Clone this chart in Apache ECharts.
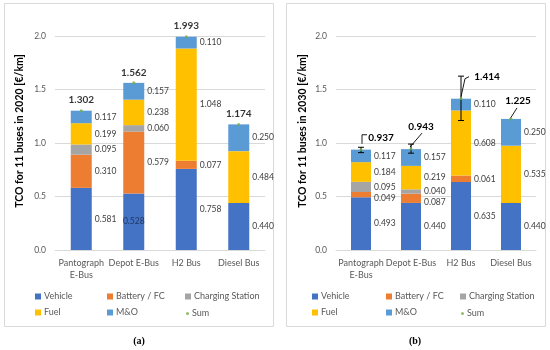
<!DOCTYPE html>
<html>
<head>
<meta charset="utf-8">
<script src="https://cdn.jsdelivr.net/npm/echarts@6/dist/echarts.min.js"></script>
<style>html,body{margin:0;padding:0;background:#fff}#c{width:550px;height:350px}</style>
</head>
<body>
<div id="c"></div>
<script>
const categories = ['Pantograph\nE-Bus', 'Depot E-Bus', 'H2 Bus', 'Diesel Bus'];
const yTicks = [0, 0.5, 1.0, 1.5, 2.0];

const vehicle2020  = [0.581, 0.528, 0.758, 0.440];
const battery2020  = [0.310, 0.579, 0.077, null];
const charging2020 = [0.095, 0.060, null, null];
const fuel2020     = [0.199, 0.238, 1.048, 0.484];
const mo2020       = [0.117, 0.157, 0.110, 0.250];
const sum2020      = [1.302, 1.562, 1.993, 1.174];

const vehicle2030  = [0.493, 0.440, 0.635, 0.440];
const battery2030  = [0.049, 0.087, 0.061, null];
const charging2030 = [0.095, 0.040, null, null];
const fuel2030     = [0.184, 0.219, 0.608, 0.535];
const mo2030       = [0.117, 0.157, 0.110, 0.250];
const sum2030      = [0.937, 0.943, 1.414, 1.225];
const errLow2030   = [0.91, 0.905, 1.21, null];
const errHigh2030  = [0.96, 0.99, 1.625, null];

const FONT = 'Lato';
const colors = {
  'Vehicle': '#4472C4', 'Battery / FC': '#ED7D31', 'Charging Station': '#A5A5A5',
  'Fuel': '#FFC000', 'M&O': '#5B9BD5', 'Sum': '#70AD47'
};

// label placement (pixel offsets from the data point) for the 2030 sum labels
const sumLabelStyle2030 = [
  {label: [20, -12], line: [[6, -15], [1, -15], [1, -6]]},
  {label: [10, -22], line: [[-1, -2], [11, -16]]},
  {label: [26, -22], line: [[0, -2], [4, -20], [8, -22]]},
  {label: [7, -18], line: [[-1, 0], [6, -11]]}
];

const chart = echarts.init(document.getElementById('c'), null, {renderer: 'canvas'});

function labelFmt(p) { return p.value == null ? '' : Number(p.value).toFixed(3); }

function barSeries(name, arr, idx, stack, bw, overrides) {
  return {
    name: name, type: 'bar', stack: stack, xAxisIndex: idx, yAxisIndex: idx,
    barWidth: bw,
    itemStyle: {color: colors[name]},
    label: {show: true, position: 'right', distance: 3, fontFamily: FONT, fontSize: 8.5, color: '#404040', formatter: labelFmt},
    emphasis: {disabled: true},
    data: arr.map((v, i) => (overrides && overrides[i]) ? Object.assign({value: v}, overrides[i]) : v)
  };
}

const series = [
  barSeries('Vehicle', vehicle2020, 0, 'a', 21, {1: {label: {position: 'inside', color: '#1F3864'}}}),
  barSeries('Battery / FC', battery2020, 0, 'a', 21),
  barSeries('Charging Station', charging2020, 0, 'a', 21),
  barSeries('Fuel', fuel2020, 0, 'a', 21),
  barSeries('M&O', mo2020, 0, 'a', 21),
  {
    name: 'Sum', type: 'scatter', xAxisIndex: 0, yAxisIndex: 0, symbol: 'circle', symbolSize: 3,
    itemStyle: {color: colors['Sum']}, z: 5,
    label: {show: true, position: 'top', distance: 4, fontFamily: FONT, fontWeight: 'bold', fontSize: 10, color: '#000', formatter: labelFmt},
    data: sum2020
  },
  barSeries('Vehicle', vehicle2030, 1, 'b', 20),
  barSeries('Battery / FC', battery2030, 1, 'b', 20, {0: {label: {offset: [0, 4]}}, 1: {label: {offset: [0, 4]}}}),
  barSeries('Charging Station', charging2030, 1, 'b', 20),
  barSeries('Fuel', fuel2030, 1, 'b', 20),
  barSeries('M&O', mo2030, 1, 'b', 20),
  {
    name: 'errbar', type: 'custom', xAxisIndex: 1, yAxisIndex: 1, z: 4,
    renderItem: function (params, api) {
      if (isNaN(api.value(1))) return;
      const p1 = api.coord([api.value(0), api.value(1)]);
      const p2 = api.coord([api.value(0), api.value(2)]);
      const w = 3, st = {stroke: '#000', lineWidth: 1};
      return {type: 'group', children: [
        {type: 'line', shape: {x1: p1[0], y1: p1[1], x2: p2[0], y2: p2[1]}, style: st},
        {type: 'line', shape: {x1: p1[0] - w, y1: p1[1], x2: p1[0] + w, y2: p1[1]}, style: st},
        {type: 'line', shape: {x1: p2[0] - w, y1: p2[1], x2: p2[0] + w, y2: p2[1]}, style: st}
      ]};
    },
    encode: {x: 0, y: [1, 2]},
    data: categories.map((c, i) => [i, errLow2030[i] == null ? NaN : errLow2030[i], errHigh2030[i] == null ? NaN : errHigh2030[i]])
  },
  {
    name: 'Sum', type: 'scatter', xAxisIndex: 1, yAxisIndex: 1, symbol: 'circle', symbolSize: 3,
    itemStyle: {color: colors['Sum']}, z: 6,
    data: sum2030
  },
  {
    name: 'sumLabels2030', type: 'custom', xAxisIndex: 1, yAxisIndex: 1, z: 5,
    renderItem: function (params, api) {
      const i = params.dataIndex;
      const v = api.value(1);
      const p = api.coord([api.value(0), v]);
      const s = sumLabelStyle2030[i];
      return {type: 'group', children: [
        {type: 'polyline', shape: {points: s.line.map(d => [p[0] + d[0], p[1] + d[1]])}, style: {stroke: '#000', lineWidth: 0.9, fill: 'none'}},
        {type: 'text', x: p[0] + s.label[0], y: p[1] + s.label[1],
          style: {text: v.toFixed(3), font: 'bold 10px Lato', fill: '#000', textAlign: 'center', textVerticalAlign: 'middle'}}
      ]};
    },
    encode: {x: 0, y: 1},
    data: categories.map((c, i) => [i, sum2030[i]])
  }
];

function xAx(idx) {
  return {
    type: 'category', gridIndex: idx, data: categories,
    axisLine: {lineStyle: {color: '#D9D9D9'}}, axisTick: {show: false},
    axisLabel: {fontFamily: FONT, fontSize: 9, color: '#595959', margin: 7, lineHeight: 12, interval: 0}
  };
}
function yAx(idx) {
  return {
    type: 'value', gridIndex: idx, min: yTicks[0], max: yTicks[yTicks.length - 1], interval: 0.5,
    axisLine: {show: false}, axisTick: {show: false},
    splitLine: {lineStyle: {color: '#D9D9D9', width: 1}},
    axisLabel: {fontFamily: FONT, fontSize: 8.5, color: '#595959', margin: 9, formatter: v => v.toFixed(1)}
  };
}

function legends(lefts) {
  const base = {orient: 'vertical', top: 287, itemWidth: 6, itemHeight: 6, itemGap: 7,
    textStyle: {fontFamily: FONT, fontSize: 9, color: '#595959', padding: [0, 0, 0, -2]}, selectedMode: false};
  return [
    Object.assign({}, base, {left: lefts[0], data: [{name: 'Vehicle', icon: 'rect'}, {name: 'Fuel', icon: 'rect'}]}),
    Object.assign({}, base, {left: lefts[1], data: [{name: 'Battery / FC', icon: 'rect'}, {name: 'M&O', icon: 'rect'}]}),
    Object.assign({}, base, {left: lefts[2], data: [{name: 'Charging Station', icon: 'rect'}]}),
    Object.assign({}, base, {left: lefts[2] + 1, top: 304, itemWidth: 3, itemHeight: 3, data: [{name: 'Sum', icon: 'circle'}]})
  ];
}

const option = {
  animation: false,
  backgroundColor: '#fff',
  grid: [
    {left: 55, right: 285, top: 36, bottom: 100},
    {left: 336, right: 14, top: 36, bottom: 100}
  ],
  xAxis: [xAx(0), xAx(1)],
  yAxis: [yAx(0), yAx(1)],
  legend: legends([30, 102, 180]).concat(legends([307, 381, 455])),
  graphic: [
    {type: 'rect', shape: {x: 4.5, y: 3.5, width: 269, height: 323}, style: {fill: 'none', stroke: '#D9D9D9', lineWidth: 1}, z: -1},
    {type: 'rect', shape: {x: 286.5, y: 3.5, width: 259, height: 323}, style: {fill: 'none', stroke: '#D9D9D9', lineWidth: 1}, z: -1},
    {type: 'text', x: 20, y: 131, rotation: Math.PI / 2, style: {text: 'TCO for 11 buses in 2020 [€/km]', font: 'bold 10.5px Lato', fill: '#000', textAlign: 'center', textVerticalAlign: 'middle'}},
    {type: 'text', x: 303, y: 131, rotation: Math.PI / 2, style: {text: 'TCO for 11 buses in 2030 [€/km]', font: 'bold 10.5px Lato', fill: '#000', textAlign: 'center', textVerticalAlign: 'middle'}},
    {type: 'text', x: 139, y: 341, style: {text: '(a)', font: 'bold 10px "Liberation Serif"', fill: '#000', textAlign: 'center', textVerticalAlign: 'middle'}},
    {type: 'text', x: 415, y: 341, style: {text: '(b)', font: 'bold 10px "Liberation Serif"', fill: '#000', textAlign: 'center', textVerticalAlign: 'middle'}}
  ],
  series: series
};
chart.setOption(option);
</script>
</body>
</html>
